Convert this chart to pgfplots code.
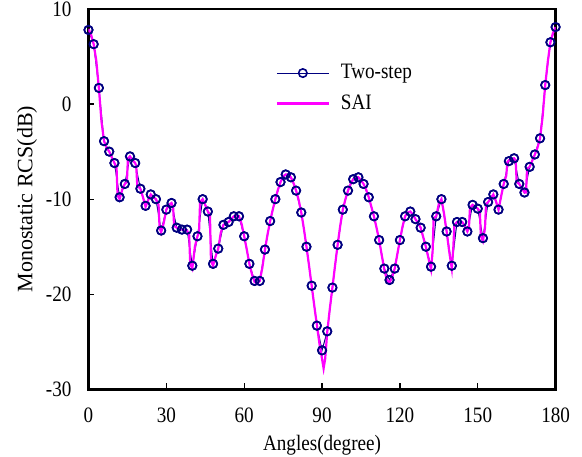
\documentclass[border=0pt]{standalone}
\usepackage{fontspec}
\setmainfont{Liberation Serif}
\newfontfamily\narrowserif{Liberation Serif}[FakeStretch=0.87]
\usepackage{pgfplots}
\pgfplotsset{compat=1.18}
\usetikzlibrary{calc}

\definecolor{stepblue}{RGB}{0,0,128}
\definecolor{saimag}{RGB}{255,0,255}

\begin{document}
\begin{tikzpicture}
\begin{axis}[
    scale only axis,
    width=233.6pt,
    height=190.2pt,
    xmin=0, xmax=180,
    ymin=-30, ymax=10,
    xtick={0,30,...,180},
    ytick={-30,-20,...,10},
    xtick pos=bottom,
    ytick pos=left,
    tick align=inside,
    major tick length=3pt,
    axis line style={line width=1.3pt},
    every tick/.style={black,line width=0.6pt},
    /pgf/number format/assume math mode=true,
    tick label style={font=\narrowserif\fontsize{11}{13}\selectfont},
    yticklabel style={xshift=-5pt},
    xticklabel style={yshift=-5.8pt},
    xlabel={Angles(degree)},
    ylabel={Monostatic RCS(dB)},
    xlabel style={font=\narrowserif\fontsize{11}{13}\selectfont,
        at={(axis description cs:0.5,-0.148)},anchor=center},
    ylabel style={font=\fontsize{11}{13}\selectfont,
        at={(axis description cs:-0.1316,0.5)},anchor=center},
    legend style={at={(axis description cs:0.40,0.866)},anchor=north west,
        draw=none,fill=none,inner sep=0pt,row sep=2.5pt,column sep=3.5pt,
        font=\narrowserif\fontsize{11}{13}\selectfont},
    legend cell align=left,
    legend image code/.code={\draw[mark repeat=2,mark phase=2]
        plot coordinates {(0pt,0pt) (13pt,0pt) (26pt,0pt)};},
]
% Two-step (line with circle markers)
\addplot[stepblue,line width=0.5pt,mark=o,mark size=2.1pt,
    mark options={line width=0.8pt}]
coordinates {
(0,7.8)(2,6.3)(4,1.7)(6,-3.9)(8,-5.0)(10,-6.2)(12,-9.8)(14,-8.4)(16,-5.5)(18,-6.2)
(20,-8.9)(22,-10.7)(24,-9.5)(26,-10.0)(28,-13.3)(30,-11.1)(32,-10.4)(34,-13.0)(36,-13.2)(38,-13.2)
(40,-17.0)(42,-13.9)(44,-10.0)(46,-11.3)(48,-16.8)(50,-15.2)(52,-12.7)(54,-12.4)(56,-11.8)(58,-11.8)
(60,-13.9)(62,-16.8)(64,-18.6)(66,-18.6)(68,-15.3)(70,-12.3)(72,-10.0)(74,-8.2)(76,-7.4)(78,-7.7)
(80,-9.1)(82,-11.4)(84,-15.0)(86,-19.1)(88,-23.3)(90,-25.9)(92,-23.9)(94,-19.3)(96,-14.8)(98,-11.1)
(100,-9.1)(102,-7.9)(104,-7.7)(106,-8.4)(108,-9.8)(110,-11.8)(112,-14.3)(114,-17.3)(116,-18.5)(118,-17.3)
(120,-14.3)(122,-11.8)(124,-11.3)(126,-12.1)(128,-13.0)(130,-15.0)(132,-17.1)(134,-11.8)(136,-10.0)(138,-13.4)
(140,-17.0)(142,-12.4)(144,-12.4)(146,-13.4)(148,-10.6)(150,-11.0)(152,-14.1)(154,-10.3)(156,-9.5)(158,-11.1)
(160,-8.4)(162,-6.0)(164,-5.7)(166,-8.4)(168,-9.3)(170,-6.6)(172,-5.3)(174,-3.6)(176,2.0)(178,6.5)
(180,8.1)
};
\addlegendentry{Two-step}
% SAI
\addplot[saimag,line width=1.1pt,no marks]
coordinates {
(0,7.9)(1,7.3)(2,6.3)(3,4.6)(4,1.7)(5,-1.8)(6,-3.9)(7,-4.6)(8,-5.0)(9,-5.6)(10,-6.2)
(10.8,-6.6)(11.2,-9.6)(12,-10.0)(13,-9.0)(14,-8.4)(14.8,-8.2)(15.2,-5.7)(16,-5.5)(17,-5.9)(18,-6.2)
(18.4,-6.5)(18.8,-8.6)(20,-8.9)(21,-9.8)(22,-10.8)(23,-10.1)(24,-9.5)(25,-9.8)(26,-10.0)(27,-10.6)
(27.4,-13.0)(28,-13.5)(29,-12.5)(30,-11.1)(31,-10.6)(32,-10.4)(32.6,-10.8)(33.0,-12.8)(34,-13.0)(36,-13.2)
(38,-13.3)(38.8,-13.8)(39.2,-16.8)(40,-17.3)(41,-15.0)(42,-13.9)(42.6,-13.5)(43.0,-10.3)(44,-10.0)(45,-10.6)
(46,-11.3)(46.8,-11.6)(47.2,-16.5)(48,-17.0)(49,-16.0)(50,-15.2)(51,-13.5)(52,-12.7)(54,-12.4)(56,-11.8)
(58,-11.8)(59,-12.6)(60,-13.9)(61,-15.3)(62,-16.8)(63,-17.9)(64,-18.7)(65,-18.9)(66,-18.6)(67,-17.2)
(68,-15.3)(69,-13.7)(70,-12.3)(71,-11.1)(72,-10.0)(73,-9.0)(74,-8.2)(75,-7.6)(76,-7.4)(77,-7.4)
(78,-7.7)(79,-8.3)(80,-9.1)(81,-10.1)(82,-11.4)(83,-13.1)(84,-15.0)(85,-17.0)(86,-19.1)(87,-21.2)
(88,-23.2)(89,-25.2)(90,-26.8)(90.6,-27.8)(91.2,-26.8)(92,-24.0)(93,-21.5)(94,-19.3)(95,-17.0)(96,-14.8)
(97,-12.8)(98,-11.1)(99,-10.0)(100,-9.1)(101,-8.4)(102,-7.9)(103,-7.7)(104,-7.7)(105,-8.0)(106,-8.4)
(107,-9.0)(108,-9.8)(109,-10.8)(110,-11.8)(111,-13.0)(112,-14.3)(113,-15.9)(114,-17.4)(115,-18.5)(116,-18.8)
(117,-18.2)(118,-17.3)(119,-15.8)(120,-14.3)(121,-12.9)(122,-11.8)(123,-11.4)(124,-11.3)(125,-11.6)(126,-12.1)
(127,-12.5)(128,-13.0)(129,-14.0)(130,-15.0)(131,-16.2)(132,-17.4)(132.6,-15.5)(133.0,-12.0)(134,-11.8)(135,-10.5)
(136,-10.0)(137,-11.5)(138,-13.4)(139,-15.5)(140,-17.3)(140.6,-15.0)(141,-12.7)(142,-12.4)(144,-12.4)(145,-12.8)
(146,-13.4)(146.6,-13.0)(147,-10.9)(148,-10.6)(150,-11.0)(150.8,-11.3)(151.2,-13.9)(152,-14.4)(152.8,-13.0)(153.2,-10.5)
(154,-10.3)(156,-9.5)(157,-10.2)(158,-11.1)(159,-9.7)(160,-8.4)(161,-7.5)(161.4,-6.1)(162,-5.9)(164,-5.7)
(164.6,-5.9)(165,-8.2)(166,-8.4)(168,-9.3)(168.6,-9.3)(169,-6.8)(170,-6.6)(172,-5.3)(173,-4.6)(174,-3.6)
(175,-1.3)(176,2.0)(177,4.5)(178,6.5)(179,7.5)(180,8.1)
};
\addlegendentry{SAI}
% Two-step markers redrawn on top of the SAI line
\addplot[stepblue,only marks,mark=o,mark size=2.1pt,
    mark options={line width=0.8pt},forget plot]
coordinates {
(0,7.8)(2,6.3)(4,1.7)(6,-3.9)(8,-5.0)(10,-6.2)(12,-9.8)(14,-8.4)(16,-5.5)(18,-6.2)
(20,-8.9)(22,-10.7)(24,-9.5)(26,-10.0)(28,-13.3)(30,-11.1)(32,-10.4)(34,-13.0)(36,-13.2)(38,-13.2)
(40,-17.0)(42,-13.9)(44,-10.0)(46,-11.3)(48,-16.8)(50,-15.2)(52,-12.7)(54,-12.4)(56,-11.8)(58,-11.8)
(60,-13.9)(62,-16.8)(64,-18.6)(66,-18.6)(68,-15.3)(70,-12.3)(72,-10.0)(74,-8.2)(76,-7.4)(78,-7.7)
(80,-9.1)(82,-11.4)(84,-15.0)(86,-19.1)(88,-23.3)(90,-25.9)(92,-23.9)(94,-19.3)(96,-14.8)(98,-11.1)
(100,-9.1)(102,-7.9)(104,-7.7)(106,-8.4)(108,-9.8)(110,-11.8)(112,-14.3)(114,-17.3)(116,-18.5)(118,-17.3)
(120,-14.3)(122,-11.8)(124,-11.3)(126,-12.1)(128,-13.0)(130,-15.0)(132,-17.1)(134,-11.8)(136,-10.0)(138,-13.4)
(140,-17.0)(142,-12.4)(144,-12.4)(146,-13.4)(148,-10.6)(150,-11.0)(152,-14.1)(154,-10.3)(156,-9.5)(158,-11.1)
(160,-8.4)(162,-6.0)(164,-5.7)(166,-8.4)(168,-9.3)(170,-6.6)(172,-5.3)(174,-3.6)(176,2.0)(178,6.5)
(180,8.1)
};
\coordinate (bl) at (rel axis cs:0,0);
\coordinate (tr) at (rel axis cs:1,1);
\end{axis}
\pgfresetboundingbox
\path[use as bounding box] ($(bl)+(-44.25pt,-33.4pt)$) rectangle ($(tr)+(13.2pt,4.5pt)$);
\end{tikzpicture}
\end{document}
